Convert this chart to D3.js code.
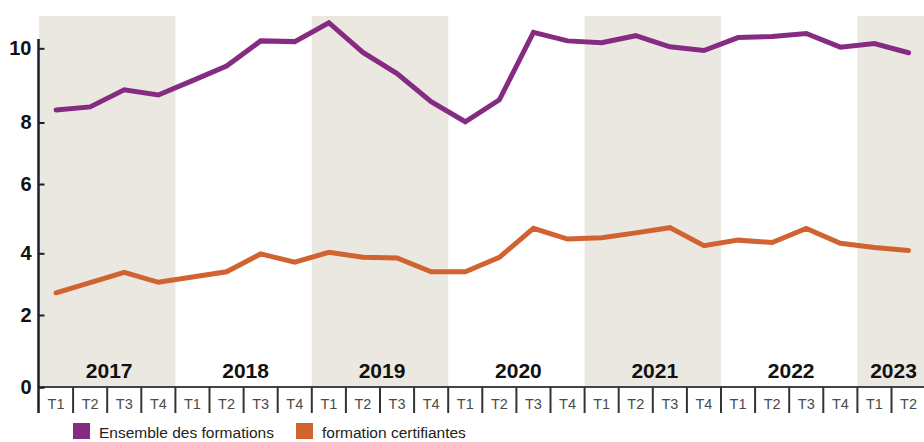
<!DOCTYPE html>
<html>
<head>
<meta charset="utf-8">
<script src="https://cdn.jsdelivr.net/npm/d3@7"></script>
<style>
  body { margin: 0; background: #ffffff; }
  svg { display: block; font-family: "Liberation Sans", Arial, sans-serif; }
</style>
</head>
<body>
<div id="chart"></div>
<script>
// data
var years = [2017, 2018, 2019, 2020, 2021, 2022, 2023];
var quarters = ["T1", "T2", "T3", "T4"];
var quarters_per_year = [4, 4, 4, 4, 4, 4, 2];
var shaded_years = [2017, 2019, 2021, 2023];
var y_ticks = [0, 2, 4, 6, 8, 10];

var ensemble = [8.34, 8.42, 8.88, 8.74,
                9.13, 9.52, 10.20, 10.18,
                10.69, 9.89, 9.32, 8.56,
                8.02, 8.61, 10.43, 10.20,
                10.15, 10.34, 10.04, 9.94,
                10.29, 10.32, 10.40, 10.03,
                10.13, 9.88];
var certifiantes = [2.72, 3.05, 3.38, 3.06,
                    3.23, 3.40, 3.98, 3.71,
                    4.03, 3.87, 3.85, 3.40,
                    3.40, 3.87, 4.72, 4.41,
                    4.45, 4.59, 4.74, 4.22,
                    4.38, 4.31, 4.72, 4.29,
                    4.17, 4.08];

var series = [
  {name: "Ensemble des formations", values: ensemble, color: "#862b82"},
  {name: "formation certifiantes", values: certifiantes, color: "#d0632f"}
];

// periods : one entry per quarter
var periods = [];
years.forEach(function(yr, i) {
  quarters.slice(0, quarters_per_year[i]).forEach(function(q) {
    periods.push({year: yr, q: q, key: yr + "-" + q});
  });
});

var total_width = 924, total_height = 442;
var left = 39, right = 925.6, top_ = 16, bottom = 387;

var svg = d3.select("#chart").append("svg")
    .attr("width", total_width)
    .attr("height", total_height);

var x = d3.scaleBand()
    .domain(periods.map(function(d) { return d.key; }))
    .range([left, right])
    .padding(0);

// the source axis is not evenly spaced, so map each tick to its own spot
var y = d3.scaleLinear()
    .domain(y_ticks)
    .range([387.3, 315, 253.3, 184, 122.5, 48.3]);

// year bands
years.forEach(function(yr) {
  var ps = periods.filter(function(d) { return d.year == yr; });
  var x0 = x(ps[0].key), x1 = x(ps[ps.length - 1].key) + x.bandwidth();
  if (shaded_years.indexOf(yr) >= 0) {
    svg.append("rect")
        .attr("x", x0)
        .attr("y", top_)
        .attr("width", (yr == 2023 ? total_width : x1) - x0)
        .attr("height", bottom - top_)
        .attr("fill", "#ebe8e2");
  }
  svg.append("text")
      .attr("x", (x0 + x1) / 2 + 2)
      .attr("y", 378)
      .attr("text-anchor", "middle")
      .attr("font-size", "21px")
      .attr("font-weight", "bold")
      .attr("fill", "#111")
      .text(yr);
});

// lines
var line = d3.line()
    .x(function(d, i) { return x(periods[i].key) + x.bandwidth() / 2; })
    .y(function(d) { return y(d); });

series.forEach(function(s) {
  svg.append("path")
      .datum(s.values)
      .attr("fill", "none")
      .attr("stroke", s.color)
      .attr("stroke-width", 5)
      .attr("stroke-linejoin", "miter")
      .attr("stroke-linecap", "round")
      .attr("d", line);
});

// x axis
svg.append("line")
    .attr("x1", left).attr("x2", right)
    .attr("y1", bottom).attr("y2", bottom)
    .attr("stroke", "#444").attr("stroke-width", 2);

svg.append("g")
  .selectAll("line")
  .data(periods)
  .enter()
  .append("line")
    .attr("x1", function(d) { return x(d.key) + x.bandwidth(); })
    .attr("x2", function(d) { return x(d.key) + x.bandwidth(); })
    .attr("y1", bottom)
    .attr("y2", 413)
    .attr("stroke", "#333")
    .attr("stroke-width", 2);

var xAxis = svg.append("g")
    .attr("transform", "translate(0," + bottom + ")")
    .call(d3.axisBottom(x).tickSize(0).tickPadding(12)
      .tickFormat(function(k) { return k.split("-")[1]; }));
xAxis.select(".domain").remove();
xAxis.selectAll("text")
    .attr("font-size", "14.5px")
    .attr("fill", "#4a4a4a")
    .attr("font-family", "Liberation Sans, Arial, sans-serif");

// y axis
svg.append("line")
    .attr("x1", left - 0.5).attr("x2", left - 0.5)
    .attr("y1", 39).attr("y2", 413)
    .attr("stroke", "#1d1d2b").attr("stroke-width", 2.5);

var yAxis = svg.append("g")
    .attr("transform", "translate(" + (left - 0.5) + ",0)")
    .call(d3.axisLeft(y).tickValues(y_ticks).tickSizeInner(-6).tickSizeOuter(0).tickPadding(7));
yAxis.select(".domain").remove();
yAxis.selectAll("line").attr("stroke", "#1d1d2b").attr("stroke-width", 2);
yAxis.selectAll("text")
    .attr("font-size", "20px")
    .attr("font-weight", "bold")
    .attr("fill", "#111")
    .attr("font-family", "Liberation Sans, Arial, sans-serif");

// legend
var legend_x = [73, 296];
series.forEach(function(s, i) {
  svg.append("rect")
      .attr("x", legend_x[i])
      .attr("y", 423)
      .attr("width", 17)
      .attr("height", 16)
      .attr("fill", s.color);
  svg.append("text")
      .attr("x", legend_x[i] + 26)
      .attr("y", 438)
      .attr("font-size", "15.5px")
      .attr("fill", "#222")
      .text(s.name);
});
</script>
</body>
</html>
